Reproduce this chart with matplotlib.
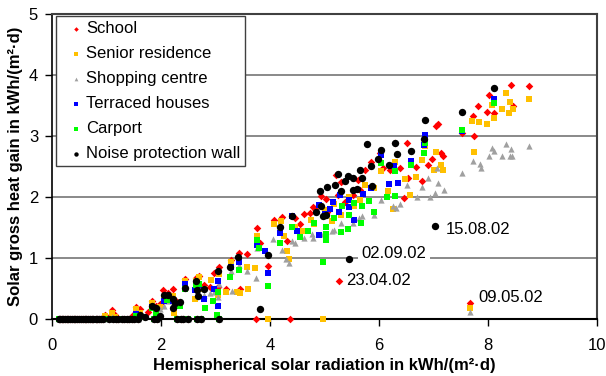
import matplotlib.pyplot as plt

plt.rcParams['font.family'] = ['Liberation Sans', 'DejaVu Sans']
plt.rcParams['font.size'] = 12

# days on which no system produced any heat (hemispherical radiation, kWh/(m2 d))
dark_days = [0.12, 0.15, 0.18, 0.21, 0.24, 0.27, 0.30, 0.33, 0.36, 0.40, 0.43,
             0.46, 0.50, 0.53, 0.56, 0.60, 0.63, 0.66, 0.70, 0.73, 0.76, 0.80,
             0.83, 0.86, 0.90, 0.94, 1.05, 1.12, 1.18, 1.22, 1.28, 1.33, 1.38,
             1.42, 1.46, 1.50, 1.57, 1.87, 1.93, 2.29, 2.36, 2.40, 2.49, 2.66,
             2.73, 3.06]

# (radiation, gain) per system
school = [(0.97, 0.07), (1.10, 0.14), (1.16, 0.06), (1.48, 0.07), (1.55, 0.19),
          (1.62, 0.17), (1.76, 0.12), (1.84, 0.29), (1.90, 0.21), (1.98, 0.24),
          (2.04, 0.47), (2.12, 0.42), (2.22, 0.49), (2.25, 0.31), (2.44, 0.65),
          (2.63, 0.50), (2.65, 0.67), (2.70, 0.71), (2.78, 0.55), (2.90, 0.53),
          (2.97, 0.76), (3.04, 0.52), (3.06, 0.86), (3.20, 0.49), (3.28, 0.96),
          (3.43, 1.08), (3.45, 0.50), (3.58, 1.06), (3.74, 0.00), (3.76, 1.49),
          (3.82, 1.24), (3.97, 0.87), (4.07, 1.62), (4.22, 1.68), (4.31, 1.28),
          (4.36, 0.00), (4.45, 1.65), (4.55, 1.56), (4.62, 1.72), (4.74, 1.74),
          (4.78, 1.83), (4.82, 1.81), (4.94, 2.02), (5.02, 1.96), (5.05, 1.75),
          (5.21, 2.36), (5.24, 2.03), (5.26, 0.63), (5.30, 2.24), (5.38, 1.92),
          (5.52, 2.03), (5.62, 2.28), (5.66, 2.11), (5.74, 2.44), (5.86, 2.58),
          (6.02, 2.72), (6.08, 2.47), (6.20, 2.45), (6.30, 2.89), (6.39, 2.47),
          (6.45, 1.98), (6.51, 2.88), (6.54, 2.31), (6.68, 2.49), (6.78, 2.26),
          (6.89, 2.52), (6.98, 2.62), (7.05, 3.16), (7.08, 3.20), (7.14, 2.72),
          (7.18, 2.68), (7.52, 3.05), (7.67, 0.27), (7.72, 3.32), (7.75, 3.00),
          (7.81, 3.49), (7.99, 3.39), (8.02, 3.67), (8.11, 3.38), (8.42, 3.84),
          (8.45, 3.49), (8.75, 3.82)]

senior = [(0.97, 0.05), (1.10, 0.10), (1.16, 0.04), (1.55, 0.17), (1.62, 0.10),
          (1.84, 0.26), (1.90, 0.17), (1.98, 0.20), (2.06, 0.34), (2.12, 0.36),
          (2.22, 0.38), (2.24, 0.10), (2.44, 0.62), (2.63, 0.32), (2.65, 0.62),
          (2.70, 0.69), (2.78, 0.50), (2.92, 0.64), (3.04, 0.40), (3.06, 0.73),
          (3.20, 0.45), (3.28, 0.93), (3.40, 0.45), (3.45, 0.42), (3.58, 0.86),
          (3.60, 0.50), (3.72, 0.83), (3.76, 1.36), (3.96, 0.00), (4.07, 1.56),
          (4.20, 1.60), (4.26, 1.36), (4.31, 1.11), (4.35, 0.99), (4.45, 1.50),
          (4.58, 1.45), (4.76, 1.62), (4.80, 1.55), (4.98, 0.00), (5.00, 1.78),
          (5.13, 1.61), (5.18, 1.88), (5.30, 1.70), (5.45, 2.00), (5.55, 1.85),
          (5.65, 1.95), (5.75, 2.20), (5.90, 2.15), (6.04, 2.43), (6.16, 2.10),
          (6.25, 1.81), (6.30, 2.58), (6.48, 2.30), (6.56, 2.04), (6.68, 2.33),
          (6.78, 2.61), (6.85, 2.83), (7.00, 2.44), (7.04, 2.73), (7.14, 2.52),
          (7.18, 2.44), (7.67, 0.18), (7.71, 3.25), (7.75, 2.74), (7.84, 3.23),
          (7.99, 3.20), (8.08, 3.51), (8.11, 3.29), (8.25, 3.45), (8.33, 3.71),
          (8.38, 3.38), (8.41, 3.55), (8.45, 3.45), (8.75, 3.60)]

shopping = [(1.10, 0.03), (1.55, 0.12), (1.62, 0.06), (1.84, 0.22), (1.90, 0.12),
            (1.98, 0.16), (2.06, 0.22), (2.12, 0.30), (2.22, 0.26), (2.44, 0.55),
            (2.65, 0.58), (2.70, 0.52), (2.78, 0.40), (2.90, 0.42), (2.97, 0.44),
            (3.06, 0.57), (3.04, 0.36), (3.30, 0.46), (3.28, 0.78), (3.43, 0.88),
            (3.58, 0.79), (3.74, 0.67), (3.76, 1.17), (4.06, 1.31), (4.22, 1.13),
            (4.30, 0.98), (4.35, 0.92), (4.40, 1.28), (4.45, 1.25), (4.62, 1.33),
            (4.77, 1.40), (4.79, 1.32), (4.98, 1.40), (5.13, 1.45), (5.18, 1.46),
            (5.30, 1.58), (5.53, 1.58), (5.63, 1.65), (5.69, 1.69), (5.90, 1.70),
            (6.04, 1.95), (6.26, 1.86), (6.32, 1.82), (6.39, 1.88), (6.51, 2.20),
            (6.70, 2.00), (6.79, 2.17), (6.89, 2.31), (6.93, 2.00), (7.02, 2.06),
            (7.06, 2.48), (7.08, 2.23), (7.20, 2.11), (7.52, 2.39), (7.67, 0.12),
            (7.72, 2.59), (7.85, 2.54), (7.88, 2.48), (8.02, 2.68), (8.08, 2.80),
            (8.11, 2.75), (8.25, 2.68), (8.33, 2.87), (8.40, 2.68), (8.44, 2.68),
            (8.42, 2.79), (8.75, 2.84)]

terraced = [(1.55, 0.08), (1.62, 0.05), (1.84, 0.20), (1.90, 0.10), (2.06, 0.30),
            (2.12, 0.33), (2.22, 0.30), (2.44, 0.57), (2.65, 0.58), (2.70, 0.55),
            (2.63, 0.48), (2.79, 0.33), (2.97, 0.50), (3.05, 0.62), (3.04, 0.22),
            (3.28, 0.85), (3.43, 0.94), (3.76, 1.22), (3.90, 1.12), (3.97, 0.76),
            (4.19, 1.41), (4.40, 1.69), (4.50, 1.45), (4.90, 1.87), (4.90, 1.37),
            (5.00, 1.72), (5.10, 1.80), (5.15, 1.92), (5.28, 2.04), (5.27, 1.76),
            (5.45, 1.95), (5.45, 1.83), (5.55, 1.62), (5.70, 2.05), (5.85, 2.15),
            (6.04, 2.69), (6.18, 2.22), (6.27, 2.51), (6.34, 2.23), (6.59, 2.59),
            (6.83, 2.85), (6.85, 3.02), (7.52, 3.08), (8.11, 3.60)]

carport = [(1.55, 0.05), (1.62, 0.04), (1.84, 0.18), (1.90, 0.10), (2.11, 0.31),
           (2.34, 0.22), (2.44, 0.49), (2.65, 0.56), (2.70, 0.57), (2.81, 0.18),
           (2.96, 0.29), (3.05, 0.45), (3.03, 0.07), (3.26, 0.69), (3.43, 0.80),
           (3.76, 1.29), (3.80, 1.16), (3.97, 0.54), (4.19, 1.25), (4.40, 1.51),
           (4.55, 1.35), (4.70, 1.45), (4.81, 1.58), (4.98, 0.94), (5.02, 1.51),
           (5.03, 1.30), (5.03, 1.40), (5.17, 1.66), (5.31, 1.43), (5.32, 1.86),
           (5.43, 1.47), (5.45, 1.70), (5.55, 1.90), (5.67, 1.57), (5.69, 1.86),
           (5.81, 1.94), (5.90, 1.75), (6.04, 2.55), (6.14, 2.00), (6.29, 2.02),
           (6.30, 2.42), (6.59, 2.52), (6.83, 2.72), (6.85, 2.88), (7.52, 3.10),
           (8.11, 3.54)]

noise_wall = [(1.62, 0.06), (1.70, 0.04), (1.84, 0.21), (1.90, 0.18), (1.98, 0.05),
              (2.05, 0.40), (2.13, 0.40), (2.22, 0.33), (2.22, 0.18), (2.25, 0.26),
              (2.34, 0.28), (2.44, 0.51), (2.65, 0.62), (2.66, 0.48), (2.67, 0.37),
              (2.79, 0.49), (3.05, 0.78), (3.26, 0.86), (3.42, 1.02), (3.81, 0.16),
              (3.96, 1.05), (4.18, 1.50), (4.40, 1.69), (4.85, 1.76), (4.94, 1.85),
              (4.98, 1.69), (5.02, 1.70), (4.91, 2.10), (5.04, 2.16), (5.20, 2.20),
              (5.24, 2.38), (5.30, 2.10), (5.37, 2.27), (5.43, 2.35), (5.45, 0.98),
              (5.52, 2.31), (5.53, 2.11), (5.60, 2.13), (5.66, 2.44), (5.69, 2.31),
              (5.78, 2.87), (5.86, 2.51), (5.87, 2.18), (5.99, 2.63), (6.04, 2.77),
              (6.18, 2.52), (6.29, 2.89), (6.33, 2.71), (6.58, 2.75), (6.83, 2.95),
              (6.85, 3.26), (7.03, 1.53), (7.52, 3.39), (8.11, 3.78)]

# outliers marked with their date
notes = [("15.08.02", 7.23, 1.46), ("02.09.02", 5.68, 1.08),
         ("23.04.02", 5.40, 0.63), ("09.05.02", 7.82, 0.36)]

series = [
    ("School", school, "#ff0000", "D", 15),
    ("Senior residence", senior, "#ffc000", "s", 19),
    ("Shopping centre", shopping, "#a0a0a0", "^", 20),
    ("Terraced houses", terraced, "#0000ff", "s", 19),
    ("Carport", carport, "#00ff00", "s", 19),
    ("Noise protection wall", noise_wall, "#000000", "o", 28),
]

fig = plt.figure(figsize=(6.06, 3.76), dpi=100)
ax = fig.add_axes([52 / 606, 57 / 376, 545 / 606, 305 / 376])

for label, pts, col, mk, sz in series:
    xs = dark_days + [p[0] for p in pts]
    ys = [0.0] * len(dark_days) + [p[1] for p in pts]
    ax.scatter(xs, ys, s=sz, c=col, marker=mk, linewidths=0, label=label,
               clip_on=False, zorder=3)

for txt, x, y in notes:
    ax.text(x, y, txt, va="center", ha="left", fontsize=12, zorder=2,
            bbox=dict(facecolor="white", edgecolor="none", pad=2.5))

ax.set_xlim(0, 10)
ax.set_ylim(0, 5)
ax.set_xticks(range(0, 11, 2))
ax.set_yticks(range(0, 6))
ax.yaxis.grid(True, color="#808080", linewidth=1.3, zorder=0)
ax.set_axisbelow(True)
ax.tick_params(direction="out", length=5, width=1, labelsize=12)
ax.tick_params(axis="x", pad=9)
ax.tick_params(axis="y", pad=5)
for side in ("top", "right"):
    ax.spines[side].set_color("#404040")
    ax.spines[side].set_linewidth(1.5)
ax.spines["left"].set_linewidth(1.2)
ax.spines["bottom"].set_linewidth(1.5)

ax.set_xlabel("Hemispherical solar radiation in kWh/(m²·d)", fontweight="bold",
              fontsize=12, labelpad=3)
ax.set_ylabel("Solar gross heat gain in kWh/(m²·d)", fontweight="bold",
              fontsize=12, labelpad=4)

leg = ax.legend(loc="upper left", bbox_to_anchor=(0.007, 0.993), fontsize=12,
                markerscale=0.6, handletextpad=-0.3, handlelength=1.8,
                labelspacing=0.6, borderpad=0.3, fancybox=False,
                framealpha=1, edgecolor="#404040", borderaxespad=0)
leg.get_frame().set_linewidth(1.0)

fig.savefig("out.png", dpi=100)
